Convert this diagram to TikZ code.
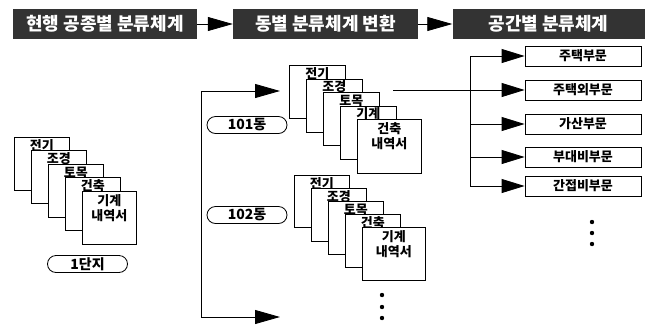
\documentclass[tikz,border=0pt]{standalone}
\usepackage{fontspec}
\usetikzlibrary{arrows.meta}
\newfontfamily\kr{Noto Sans CJK KR}
\newcommand\cardtxt[3]{\parbox[t][#2][t]{#1}{\centering\rule{0pt}{13pt}#3\par}}
\newcommand\cardtxtt[4]{\parbox[t][#2][t]{#1}{\centering\baselineskip=15pt\rule{0pt}{14pt}#3\\#4\par}}
\tikzset{
  hdr/.style={fill=black!80, text=white, inner sep=0pt, minimum height=30pt,
    font=\kr\bfseries\fontsize{18pt}{20pt}\selectfont},
  card/.style={draw, fill=white, inner sep=0pt, anchor=north west, line width=0.8pt,
    font=\kr\bfseries\fontsize{13pt}{15pt}\selectfont},
  oval/.style={draw, line width=0.8pt, rounded corners=8.5pt, minimum width=80pt, minimum height=17pt,
    inner sep=0pt, font=\kr\bfseries\fontsize{14pt}{15pt}\selectfont},
  rbox/.style={draw, line width=0.8pt, minimum width=116pt, minimum height=20pt, inner sep=0pt,
    font=\kr\bfseries\fontsize{13pt}{14pt}\selectfont},
  conn/.style={line width=0.8pt},
  bigarr/.style={conn, -{Triangle[length=25pt,width=14pt]}},
  smarr/.style={conn, -{Triangle[length=23pt,width=14pt]}},
}
\begin{document}
\begin{tikzpicture}[x=1pt,y=-1pt]
\useasboundingbox (0,0) rectangle (646,325);
% headers
\node[hdr, minimum width=184pt] (h1) at (105,24) {현행 공종별 분류체계};
\node[hdr, minimum width=185pt] (h2) at (325.5,24) {동별 분류체계 변환};
\node[hdr, minimum width=192pt] (h3) at (548.5,24) {공간별 분류체계};
\draw[bigarr] (h1.east) -- (h2.west);
\draw[bigarr] (h2.east) -- (h3.west);
% left stack
\node[card] (l1) at (14,137) {\cardtxt{55pt}{53pt}{전기}};
\node[card] (l2) at (31,150) {\cardtxt{55pt}{53pt}{조경}};
\node[card] (l3) at (48,164) {\cardtxt{55pt}{53pt}{토목}};
\node[card] (l4) at (65,177) {\cardtxt{55pt}{53pt}{건축}};
\node[card] (l5) at (82,191) {\cardtxtt{54pt}{53pt}{기계}{내역서}};
\node[oval] (o1) at (87.5,264) {1단지};
% 101 stack
\node[card] (a1) at (289,65) {\cardtxt{56pt}{53pt}{전기}};
\node[card] (a2) at (306,78.5) {\cardtxt{56pt}{53pt}{조경}};
\node[card] (a3) at (323,92) {\cardtxt{56pt}{53pt}{토목}};
\node[card] (a4) at (340,105.5) {\cardtxt{56pt}{53pt}{기계}};
\node[card] (a5) at (357,119) {\cardtxtt{64pt}{54pt}{건축}{내역서}};
\node[oval] (o101) at (247,125) {101동};
% 102 stack
\node[card] (b1) at (294,175) {\cardtxt{55pt}{52pt}{전기}};
\node[card] (b2) at (311,188) {\cardtxt{55pt}{53pt}{조경}};
\node[card] (b3) at (328,201) {\cardtxt{55pt}{53pt}{토목}};
\node[card] (b4) at (345,214) {\cardtxt{55pt}{53pt}{건축}};
\node[card] (b5) at (362,227) {\cardtxtt{63pt}{53pt}{기계}{내역서}};
\node[oval] (o102) at (247,215) {102동};
% middle connector
\coordinate (m1) at (201,91);
\coordinate (m2) at (201,317);
\coordinate (e1) at (280,91);
\coordinate (e2) at (280,317);
\draw[conn] (m1) -- (m2);
\draw[bigarr] (m1) -- (e1);
\draw[bigarr] (m2) -- (e2);
% dots
\foreach \y in {295,307,318} \fill (382,\y) circle (2.2pt);
\foreach \y in {222,233,244} \fill (592,\y) circle (2.2pt);
% right boxes
\node[rbox] (r1) at (583,56) {주택부문};
\node[rbox] (r2) at (583,90) {주택외부문};
\node[rbox] (r3) at (583,124) {가산부문};
\node[rbox] (r4) at (583,157) {부대비부문};
\node[rbox] (r5) at (583,186) {간접비부문};
\coordinate (s) at (393,90);
\coordinate (t1) at (470,56);
\coordinate (t2) at (470,90);
\coordinate (t3) at (470,124);
\coordinate (t4) at (470,157);
\coordinate (t5) at (470,186);
\draw[conn] (s) -- (t2);
\draw[conn] (t1) -- (t5);
\draw[smarr] (t1) -- (r1.west);
\draw[smarr] (t2) -- (r2.west);
\draw[smarr] (t3) -- (r3.west);
\draw[smarr] (t4) -- (r4.west);
\draw[smarr] (t5) -- (r5.west);
\end{tikzpicture}
\end{document}
